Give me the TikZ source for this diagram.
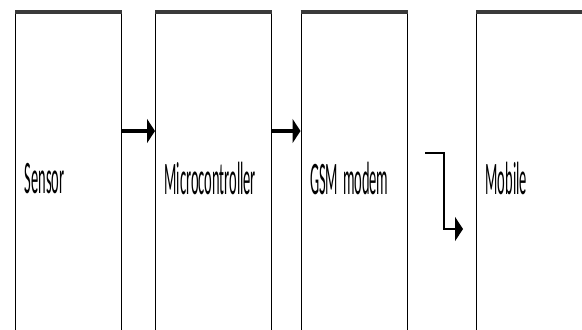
\documentclass[tikz,border=0pt]{standalone}
\usepackage{fontspec}
\setmainfont{Carlito}
\usepackage{tikz}
\usetikzlibrary{arrows.meta,calc,positioning}
\definecolor{Edge}{HTML}{3A3A3A}
\newcommand{\narrowtext}[1]{\scalebox{0.31}[1]{#1}}

\begin{document}
\begin{tikzpicture}[x=0.5pt,y=-0.5pt,>={Triangle[length=4pt,width=12pt]},
    box/.style={draw=black,line width=0.6pt,anchor=north west,minimum height=166pt,
      align=left,inner xsep=4.5pt,font=\fontsize{23.3}{26}\selectfont},
    topline/.style={draw=Edge,line width=1.6pt},
    flow/.style={->,line width=1.7pt}]
        \useasboundingbox (0,0) rectangle (582,329);
        \clip (0,0) rectangle (582,329);
        \node[box,text width=44pt] (sensor) at (15,12) {\narrowtext{Sensor}};
        \node[box,text width=48.75pt] (micro) at (155,12) {\narrowtext{Microcontroller}};
        \node[box,text width=44.25pt] (gsm) at (300.5,12) {\narrowtext{GSM modem}};
        \node[box,text width=46pt] (mobile) at (476,12) {\narrowtext{Mobile}};
        \foreach \b in {sensor,micro,gsm,mobile}
          \draw[topline] (\b.north west) -- (\b.north east);
        \draw[flow] (sensor.east |- 0,131) -- (micro.west |- 0,131);
        \draw[flow] (micro.east |- 0,131) -- (gsm.west |- 0,131);
        \coordinate (gsmout) at (425,153);
        \coordinate (mobin) at (463,229);
        \draw[flow,line width=1.2pt] (gsmout) -- ++(19,0) |- (mobin);
      \end{tikzpicture}
\end{document}
